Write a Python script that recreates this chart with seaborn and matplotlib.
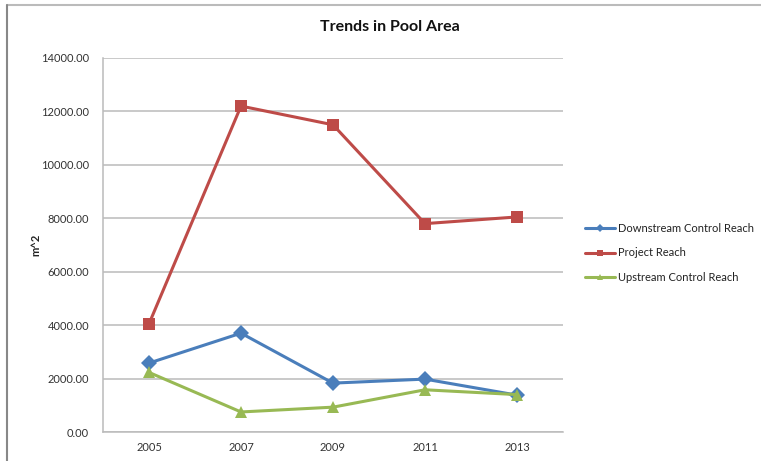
import matplotlib
matplotlib.use("Agg")
import matplotlib.pyplot as plt
import seaborn as sns
import pandas as pd
from matplotlib.lines import Line2D

years = ["2005", "2007", "2009", "2011", "2013"]
downstream = [2580, 3700, 1830, 1980, 1380]
project = [4050, 12200, 11500, 7800, 8050]
upstream = [2230, 750, 930, 1580, 1400]

series_names = ["Downstream Control Reach", "Project Reach", "Upstream Control Reach"]
y_ticks = [0, 2000, 4000, 6000, 8000, 10000, 12000, 14000]

df = pd.DataFrame({
    "year": years * 3,
    "area": downstream + project + upstream,
    "series": [series_names[0]] * 5 + [series_names[1]] * 5 + [series_names[2]] * 5,
})

sns.set_theme(style="white")
plt.rcParams["font.family"] = ["Lato", "DejaVu Sans"]

W, H = 761, 461
fig = plt.figure(figsize=(W / 100, H / 100), dpi=100)
ax = fig.add_axes([103 / W, (H - 432) / H, 460 / W, 374 / H])

colors = {"Downstream Control Reach": "#4A7EBB",
          "Project Reach": "#BE4B48",
          "Upstream Control Reach": "#98B954"}
markers = {"Downstream Control Reach": "D",
           "Project Reach": "s",
           "Upstream Control Reach": "^"}
msizes = {"Downstream Control Reach": 8,
          "Project Reach": 8.5,
          "Upstream Control Reach": 9}

for name in series_names:
    sub = df[df["series"] == name]
    sns.lineplot(data=sub, x="year", y="area", ax=ax, color=colors[name],
                 marker=markers[name], markersize=msizes[name],
                 markeredgewidth=0, linewidth=2.2, legend=False, sort=False)

ax.set_xlim(-0.5, 4.5)
ax.set_ylim(0, 14000)
ax.set_yticks(y_ticks)
ax.set_yticklabels([f"{v:.2f}" for v in y_ticks])
ax.tick_params(axis="both", length=0, labelsize=8, colors="#333333")
ax.tick_params(axis="y", pad=10)
ax.tick_params(axis="x", pad=7)
ax.set_xlabel("")
ax.set_ylabel("")
ax.grid(axis="y", color="#BBBBBB", linewidth=1.1)
ax.set_axisbelow(True)
for side in ["top", "right"]:
    ax.spines[side].set_visible(False)
for side in ["left", "bottom"]:
    ax.spines[side].set_color("#BBBBBB")
    ax.spines[side].set_linewidth(1.1)

fig.text(36 / W, 1 - 245 / H, "m^2", rotation=90, ha="center", va="center",
         fontsize=8, fontweight="bold", color="#222222")
fig.text(390 / W, 1 - 27 / H, "Trends in Pool Area", ha="center", va="center",
         fontsize=11.5, fontweight="bold", color="#111111")

handles = [Line2D([0], [0], color=colors[n], marker=markers[n], markersize=4,
                  markeredgewidth=0, linewidth=2.2) for n in series_names]
fig.legend(handles, series_names, loc="center left",
           bbox_to_anchor=(585 / W, 1 - 253 / H), frameon=False, fontsize=8,
           handlelength=2.7, handletextpad=0.3, labelspacing=1.25,
           borderpad=0, borderaxespad=0, labelcolor="#222222")

# chart area frame (top and left edges)
fig.add_artist(Line2D([7 / W, 1], [1 - 5.5 / H, 1 - 5.5 / H], color="#BBBBBB",
                      linewidth=1.5, transform=fig.transFigure))
fig.add_artist(Line2D([7 / W, 7 / W], [0, 1 - 5.5 / H], color="#888888",
                      linewidth=1.5, transform=fig.transFigure))

fig.savefig("out.png", dpi=100)
